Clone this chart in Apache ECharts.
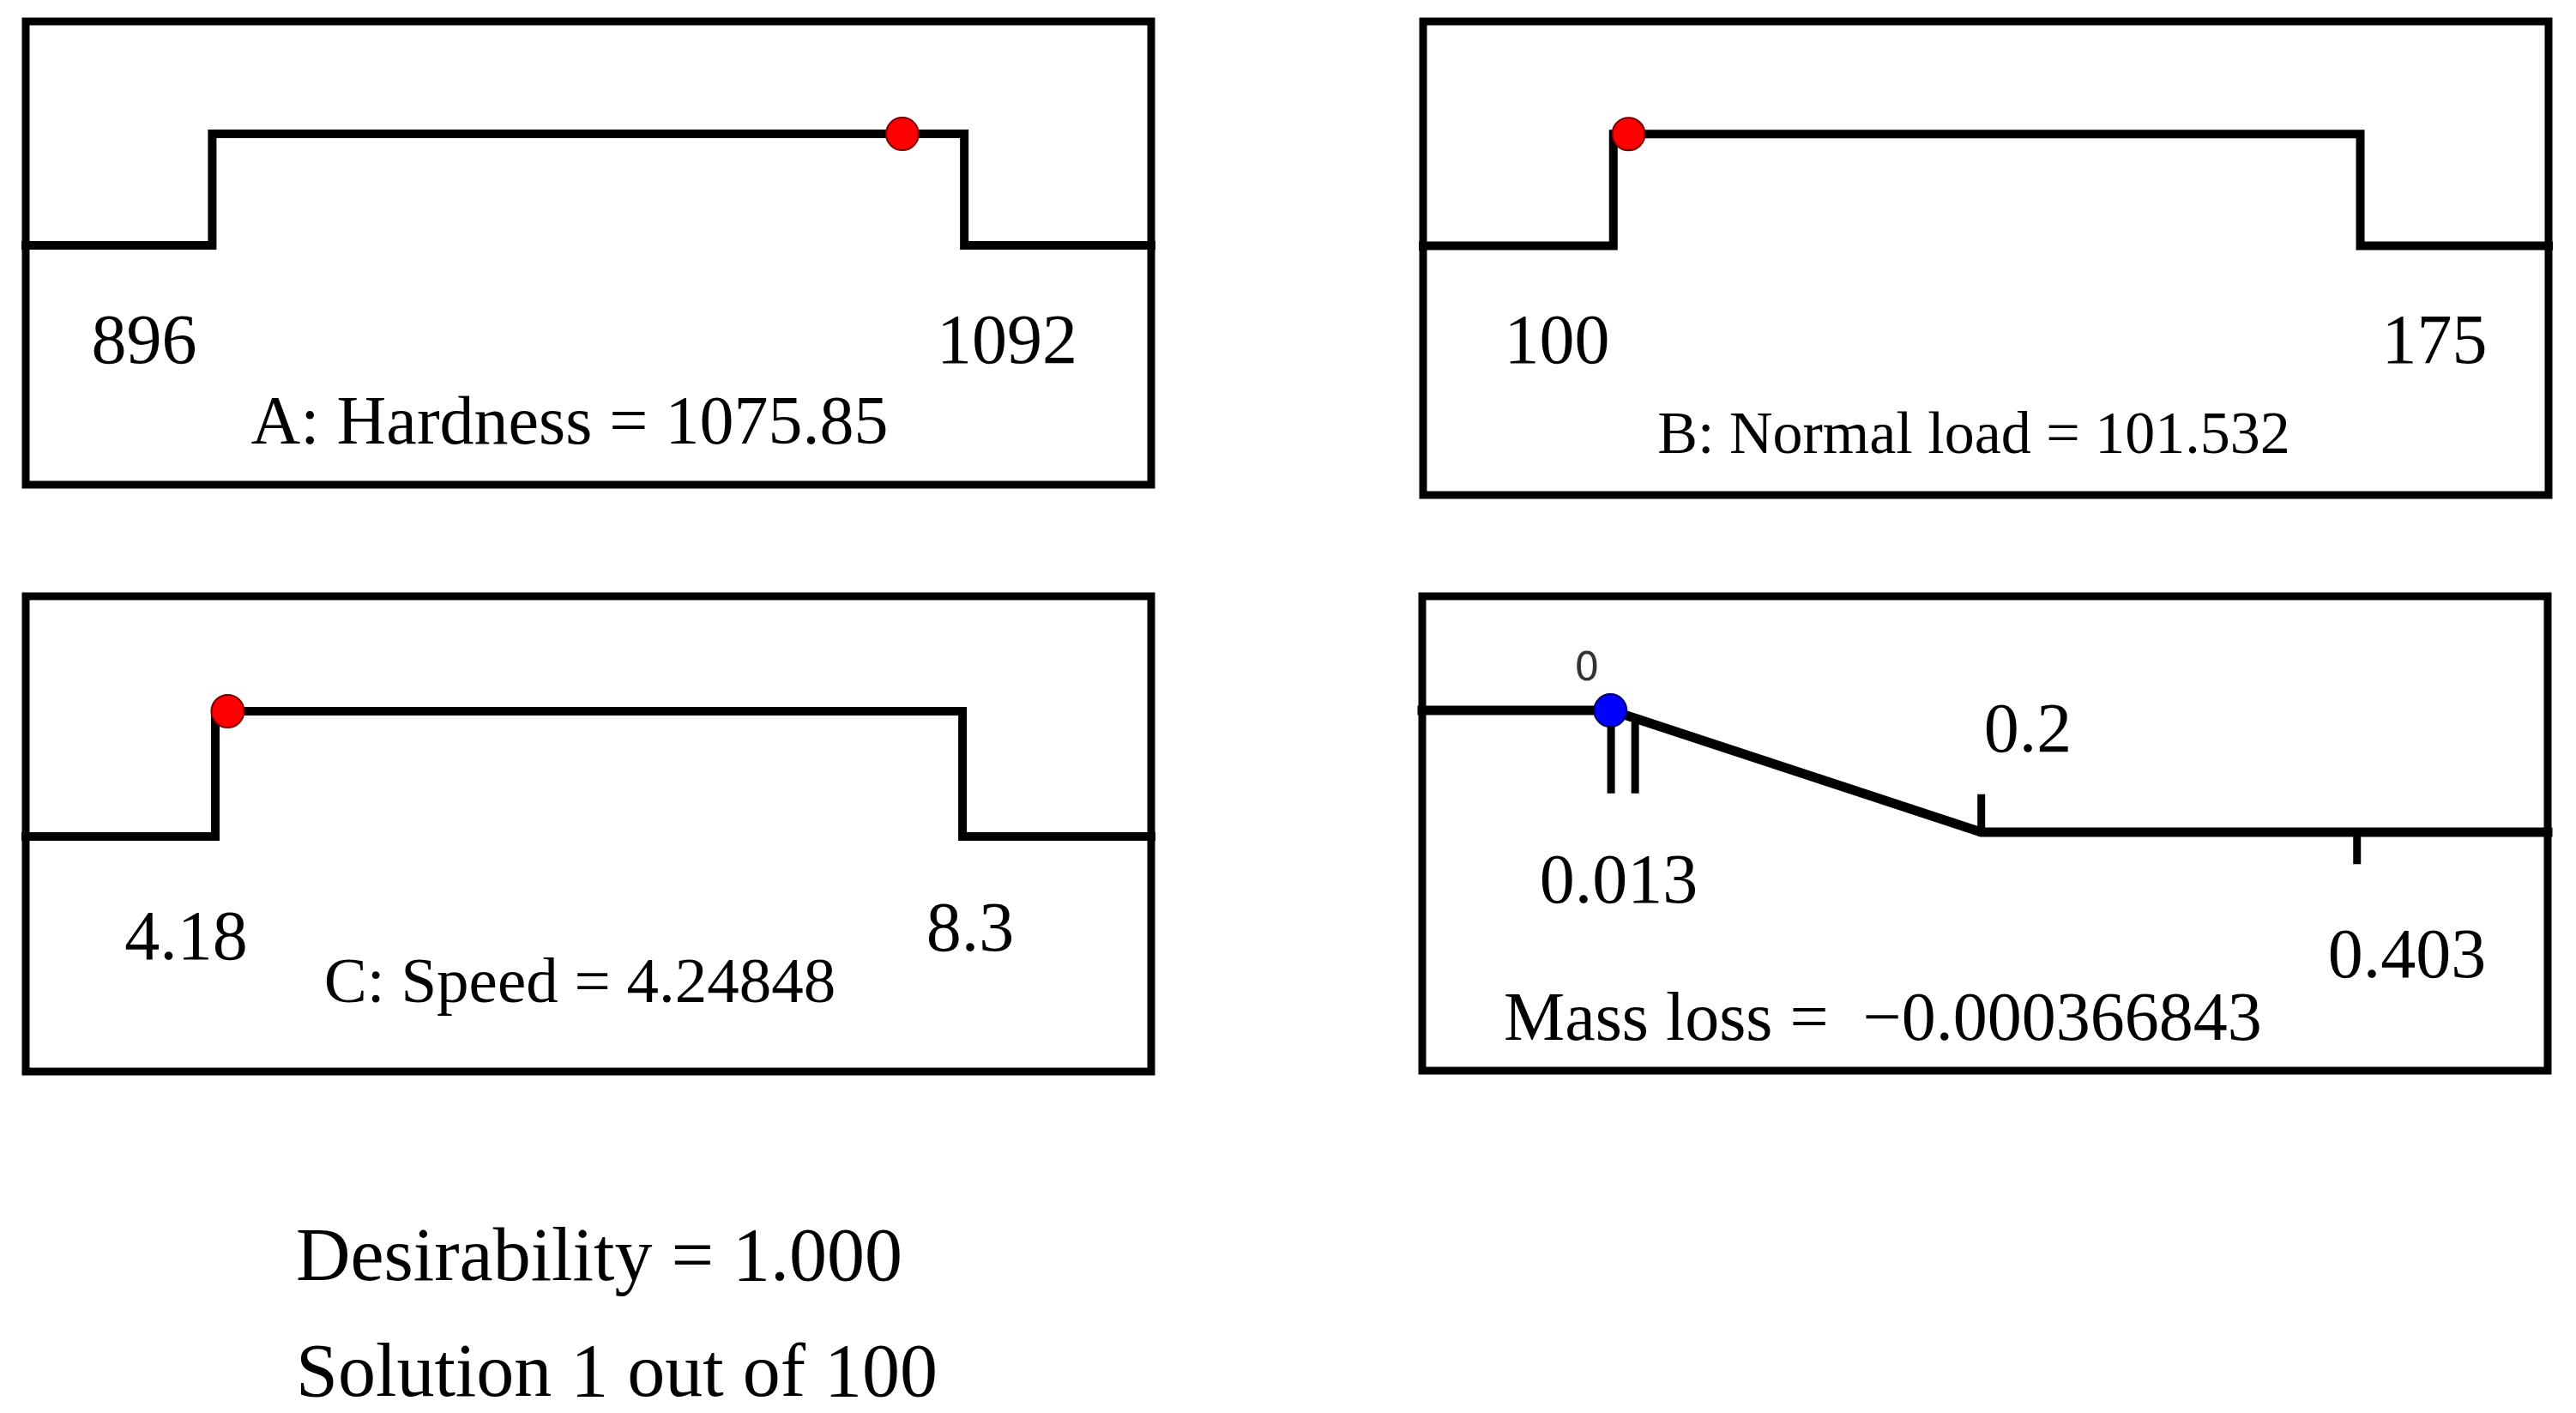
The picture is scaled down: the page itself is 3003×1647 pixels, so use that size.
<!DOCTYPE html>
<html>
<head>
<meta charset="utf-8">
<title>Desirability ramps</title>
<script src="https://cdn.jsdelivr.net/npm/echarts@6/dist/echarts.min.js"></script>
<style>
    html, body { margin: 0; padding: 0; background: #fff; }
    #chart { width: 3003px; height: 1647px; }
</style>
</head>
<body>
<div id="chart"></div>
<script>

// factor limits and the chosen solution
const hardnessLimits = [896, 1092];
const hardnessValue = 1075.85;

const loadLimits = [100, 175];
const loadValue = 101.532;

const speedLimits = [4.18, 8.3];
const speedValue = 4.24848;

// response: goal limits (minimize) and observed data range
const massLossGoal = [0, 0.2];
const massLossRange = [0.013, 0.403];
const massLossValue = -0.000366843;

const desirability = 1.000;
const solutionIndex = 1;
const solutionCount = 100;

const SERIF = '"Liberation Serif", "Times New Roman", serif';

// panel boxes in page pixels, and the axis windows that place the ramps inside them
const panels = [
    { left: 30, top: 25, width: 1312, height: 540, x: [847.4, 1140.7], y: [-2.146, 2.008] },
    { left: 1659, top: 25, width: 1312, height: 552, x: [80.9, 193.9], y: [-2.231, 2.008] },
    { left: 30, top: 695, width: 1312, height: 554, x: [3.135, 9.34], y: [-1.877, 1.918] },
    { left: 1658, top: 695, width: 1312, height: 553, x: [-0.102, 0.506], y: [-1.958, 1.937] },
];

const chart = echarts.init(document.getElementById('chart'));

const lineStyle = { color: '#000', width: 10, cap: 'square', join: 'miter' };

// step ramp for a factor kept "in range"
const rampInRange = (limits, xr) => [
    [xr[0], 0], [limits[0], 0], [limits[0], 1], [limits[1], 1], [limits[1], 0], [xr[1], 0],
];

// ramp for a minimized response
const rampMinimize = (goal, xr) => [
    [xr[0], 1], [goal[0], 1], [goal[1], 0], [xr[1], 0],
];

const series = [];

const addLine = (idx, data, width) => {
    series.push({
        type: 'line',
        xAxisIndex: idx,
        yAxisIndex: idx,
        data: data,
        symbol: 'none',
        silent: true,
        lineStyle: Object.assign({}, lineStyle, width ? { width } : {}),
        z: 2,
    });
};

const addPoint = (idx, value, color, border) => {
    series.push({
        type: 'scatter',
        xAxisIndex: idx,
        yAxisIndex: idx,
        data: [[value, 1]],
        symbolSize: 38,
        itemStyle: { color: color, borderColor: border, borderWidth: 2, opacity: 1 },
        z: 5,
    });
};

addLine(0, rampInRange(hardnessLimits, panels[0].x));
addLine(1, rampInRange(loadLimits, panels[1].x));
addLine(2, rampInRange(speedLimits, panels[2].x));
addLine(3, rampMinimize(massLossGoal, panels[3].x), 11);

// tick marks on the mass loss ramp
addLine(3, [[massLossGoal[0], 0.9], [massLossGoal[0], 0.35]], 9);
addLine(3, [[massLossRange[0], 0.87], [massLossRange[0], 0.35]], 9);
addLine(3, [[massLossGoal[1], 0], [massLossGoal[1], 0.28]], 9);
addLine(3, [[massLossRange[1], 0], [massLossRange[1], -0.23]], 9);

addPoint(0, hardnessValue, '#ff0000', '#7a0000');
addPoint(1, loadValue, '#ff0000', '#7a0000');
addPoint(2, speedValue, '#ff0000', '#7a0000');
addPoint(3, massLossValue, '#0000ff', '#00005a');

// text placed by its baseline
const label = (text, x, baseline, size, align, family, fill) => ({
    type: 'text',
    x: x,
    y: baseline - 0.3375 * size,
    silent: true,
    style: {
        text: text,
        font: `${size}px ${family || SERIF}`,
        fill: fill || '#000',
        align: align || 'center',
        textAlign: align || 'center',
        verticalAlign: 'middle',
        textVerticalAlign: 'middle',
    },
});

const fmt = (v) => String(v).replace('-', '\u2212');

const texts = [
    label(String(hardnessLimits[0]), 168, 429, 82),
    label(String(hardnessLimits[1]), 1174, 429, 82),
    label(`A: Hardness = ${hardnessValue}`, 664, 523, 80),

    label(String(loadLimits[0]), 1815, 429, 82),
    label(String(loadLimits[1]), 2838, 429, 82),
    label(`B: Normal load = ${loadValue}`, 2301, 533, 70),

    label(String(speedLimits[0]), 217, 1124, 82),
    label(String(speedLimits[1]), 1131, 1114, 82),
    label(`C: Speed = ${speedValue}`, 676, 1174, 75),

    label(String(massLossGoal[0]), 1850, 797, 46, 'center', '"DejaVu Sans", sans-serif', '#333'),
    label(String(massLossGoal[1]), 2364, 882, 82),
    label(String(massLossRange[0]), 1887, 1058, 82),
    label(String(massLossRange[1]), 2806, 1145, 82),
    label(`Mass loss =  ${fmt(massLossValue)}`, 1753, 1218, 80, 'left'),

    label(`Desirability = ${desirability.toFixed(3)}`, 345, 1499, 88, 'left'),
    label(`Solution ${solutionIndex} out of ${solutionCount}`, 345, 1634, 88, 'left'),
];

chart.setOption({
    animation: false,
    backgroundColor: '#fff',
    grid: panels.map((p) => ({
        left: p.left,
        top: p.top,
        width: p.width,
        height: p.height,
        show: true,
        borderColor: '#000',
        borderWidth: 9,
        backgroundColor: 'transparent',
        containLabel: false,
    })),
    xAxis: panels.map((p, i) => ({
        type: 'value',
        gridIndex: i,
        min: p.x[0],
        max: p.x[1],
        show: false,
    })),
    yAxis: panels.map((p, i) => ({
        type: 'value',
        gridIndex: i,
        min: p.y[0],
        max: p.y[1],
        show: false,
    })),
    series: series,
    graphic: texts,
});

</script>
</body>
</html>
